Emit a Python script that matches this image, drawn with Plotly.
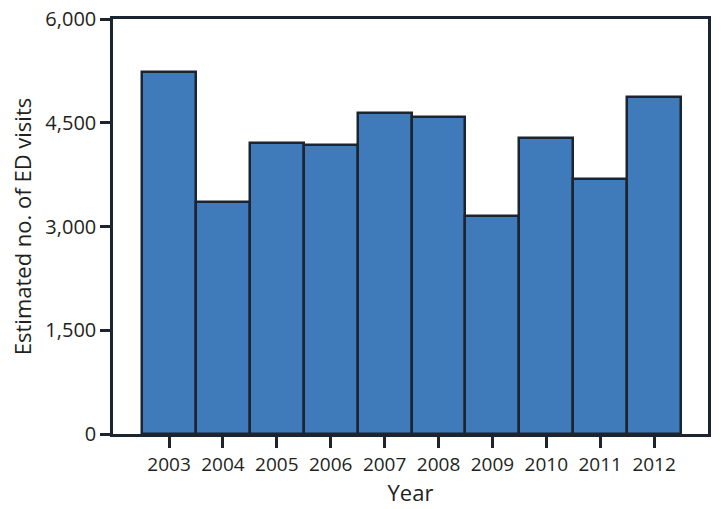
import plotly.graph_objects as go

years = ["2003", "2004", "2005", "2006", "2007", "2008", "2009", "2010", "2011", "2012"]
visits = [5230, 3360, 4210, 4175, 4635, 4580, 3155, 4285, 3690, 4875]
y_ticks = [0, 1500, 3000, 4500, 6000]
y_tick_labels = ["0", "1,500", "3,000", "4,500", "6,000"]

positions = list(range(len(years)))
font_family = "Open Sans, Lato, sans-serif"
dark = "#1c2430"

fig = go.Figure(
    go.Bar(
        x=positions,
        y=visits,
        width=1.0,
        marker=dict(color="#3f7abb", line=dict(color=dark, width=2.5)),
    )
)

fig.update_layout(
    width=722,
    height=509,
    margin=dict(l=113, r=14, t=19, b=75, autoexpand=False),
    paper_bgcolor="white",
    plot_bgcolor="white",
    showlegend=False,
    font=dict(family=font_family, size=20, color="#231f20"),
    bargap=0,
)

fig.update_xaxes(
    range=[-1.04, 10.0],
    tickvals=positions,
    ticktext=years,
    showline=True,
    linecolor=dark,
    linewidth=2.5,
    mirror=True,
    ticks="outside",
    ticklen=11,
    tickwidth=2.5,
    tickcolor=dark,
    showgrid=False,
    zeroline=False,
    automargin=False,
    ticklabeloverflow="allow",
    title=dict(text="Year", font=dict(size=22), standoff=0),
    tickfont=dict(size=19),
)

fig.update_yaxes(
    range=[0, 6000],
    tickvals=y_ticks,
    ticktext=y_tick_labels,
    showline=True,
    linecolor=dark,
    linewidth=2.5,
    mirror=True,
    ticks="outside",
    ticklen=10,
    tickwidth=2.5,
    tickcolor=dark,
    showgrid=False,
    zeroline=False,
    automargin=False,
    ticklabeloverflow="allow",
    title=dict(text="Estimated no. of ED visits", font=dict(size=22), standoff=8),
    tickfont=dict(size=20),
)

# Remove the default page margin so the figure fills the window exactly.
fig.write_html(
    "out.html",
    config={"displayModeBar": False},
    post_script="document.body.style.margin='0px';",
)
